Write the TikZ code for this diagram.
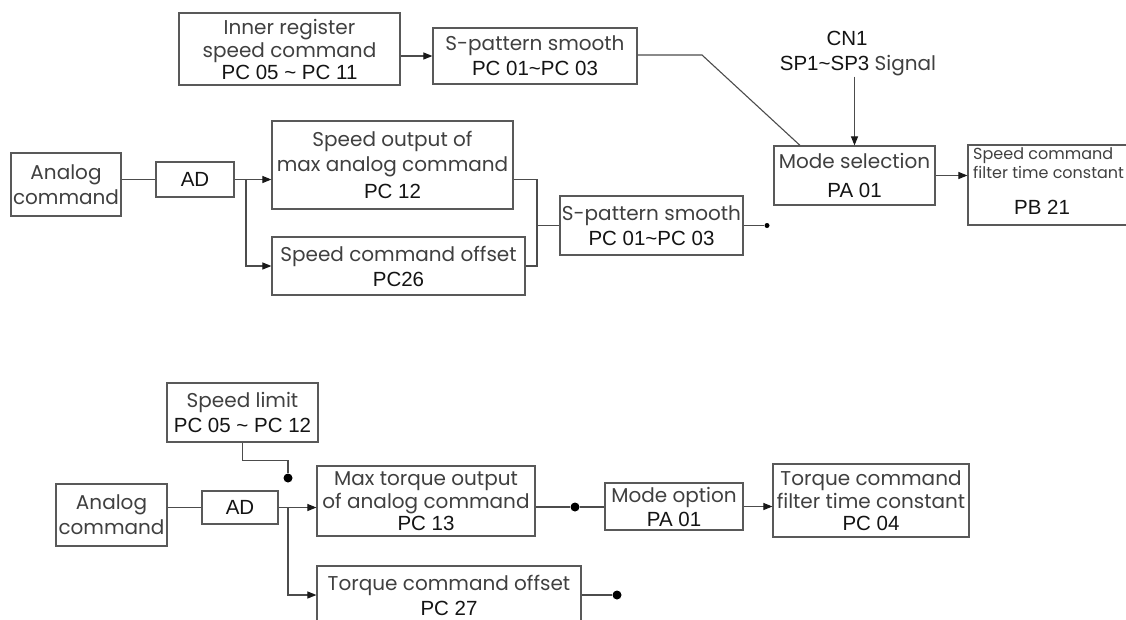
\documentclass[tikz,border=0pt]{standalone}
\usepackage{fontspec}
\setmainfont{Poppins}
\newfontfamily\arfont{Liberation Sans}
\usetikzlibrary{arrows.meta}
\newcommand\cgsize{\fontsize{20}{25}\selectfont}
\newcommand\ArT[1]{{\arfont\fontsize{20.5}{25}\selectfont\color{black!92}#1}}
\begin{document}
\begin{tikzpicture}[x=1pt,y=-1pt,
  line/.style={draw=black!70, line width=1.1pt},
  box/.style={draw=black!65, line width=1.2pt, align=center, inner sep=0pt, text=black!75, font=\cgsize},
  arr/.style={line, -{Triangle[length=9pt,width=7pt,color=black!90]}},
  dot/.style={circle, fill=black, inner sep=0pt, minimum size=9pt},
  sdot/.style={circle, fill=black, inner sep=0pt, minimum size=5pt},
  lbl/.style={align=center, inner sep=0pt, text=black!75, font=\cgsize}]
\fill[white] (0,0) rectangle (1126,619);
\useasboundingbox (0,0) rectangle (1126,619);

% ---------- top / middle section ----------
\node[box, minimum width=221pt, minimum height=72pt] (inner) at (289.5,49) {Inner register\\[-2pt]speed command\\[-3pt]\ArT{PC 05 \textasciitilde{} PC 11}};
\node[box, minimum width=204pt, minimum height=56pt] (spt) at (535,56) {S-pattern smooth\\\ArT{PC 01\textasciitilde PC 03}};
\node[box, minimum width=161pt, minimum height=59pt] (modesel) at (854.5,175.5) {Mode selection\\[4pt]\ArT{PA 01}};
\node[box, minimum width=167pt, minimum height=80pt] (sfilt) at (1051.5,185) {};
\node[anchor=north west, align=left, inner sep=0pt, text=black!75, font=\fontsize{16}{19}\selectfont] (sfiltt) at (973,147) {Speed command\\filter time constant};
\node[inner sep=0pt] (pb21) at (1042,207) {\ArT{PB 21}};
\node[lbl] (cn1) at (858,54) {\ArT{CN1}\hspace*{22pt}\\\ArT{SP1\textasciitilde SP3} Signal};

\node[box, minimum width=110pt, minimum height=63pt] (anl1) at (66,184.5) {Analog\\command};
\node[box, minimum width=78pt, minimum height=35pt] (ad1) at (195,179.5) {\ArT{AD}};
\node[box, minimum width=241pt, minimum height=88pt] (spout) at (392.5,165) {Speed output of\\max analog command\\[2pt]\ArT{PC 12}};
\node[box, minimum width=253pt, minimum height=58pt] (spoff) at (398.5,266) {Speed command offset\\\ArT{PC26}};
\node[box, minimum width=183pt, minimum height=59pt] (spm) at (651.5,225.5) {S-pattern smooth\\\ArT{PC 01\textasciitilde PC 03}};
\node[sdot] (d0) at (767,225.5) {};

\coordinate (k1) at (702,55);
\coordinate (j1) at (246,179.5);
\coordinate (b1) at (537,179.5);

\draw[arr] (inner.east |- spt.west) -- (spt.west);
\draw[line] (spt.east |- k1) -- (k1) -- ([xshift=-54.5pt]modesel.north);
\draw[arr] (cn1.south -| modesel.north) -- (modesel.north);
\draw[arr] (modesel.east) -- (modesel.east -| sfilt.west);
\draw[line] (anl1.east |- ad1.west) -- (ad1.west);
\draw[arr] (ad1.east) -- (ad1.east -| spout.west);
\draw[arr] (j1) |- (spoff.west);
\draw[line] (spout.east |- b1) -- (b1) |- (spoff.east);
\draw[line] (b1 |- spm.west) -- (spm.west);
\draw[line] (spm.east) -- (d0);

% ---------- bottom section ----------
\node[box, minimum width=151pt, minimum height=59pt] (splim) at (242.5,412.5) {Speed limit\\\ArT{PC 05 \textasciitilde{} PC 12}};
\node[box, minimum width=111pt, minimum height=62pt] (anl2) at (111.5,515) {Analog\\command};
\node[box, minimum width=76pt, minimum height=33pt] (ad2) at (240,507.5) {\ArT{AD}};
\node[box, minimum width=218pt, minimum height=70pt] (maxtq) at (426,501) {Max torque output\\[-2pt]of analog command\\[-3pt]\ArT{PC 13}};
\node[box, minimum width=264pt, minimum height=58pt] (tqoff) at (449,595) {Torque command offset\\\ArT{PC 27}};
\node[box, minimum width=138pt, minimum height=47pt] (modeopt) at (674,506.5) {Mode option\\[-1pt]\ArT{PA 01}};
\node[box, minimum width=196pt, minimum height=73pt] (tqfilt) at (871,500.5) {Torque command\\[-2pt]filter time constant\\[-3pt]\ArT{PC 04}};
\node[dot] (d1) at (288,478) {};
\node[dot] (d2) at (575,507) {};
\node[dot] (d3) at (617,595) {};

\coordinate (j2) at (288,507.5);

\draw[line] (splim.south) -- ++(0,18) -| (d1.north);
\draw[line] (anl2.east |- ad2.west) -- (ad2.west);
\draw[arr] (ad2.east) -- (ad2.east -| maxtq.west);
\draw[arr] (j2) |- (tqoff.west);
\draw[line] (maxtq.east |- d2) -- (d2) -- (modeopt.west |- d2);
\draw[arr] (modeopt.east) -- (modeopt.east -| tqfilt.west);
\draw[line] (tqoff.east) -- (d3);
\end{tikzpicture}
\end{document}
